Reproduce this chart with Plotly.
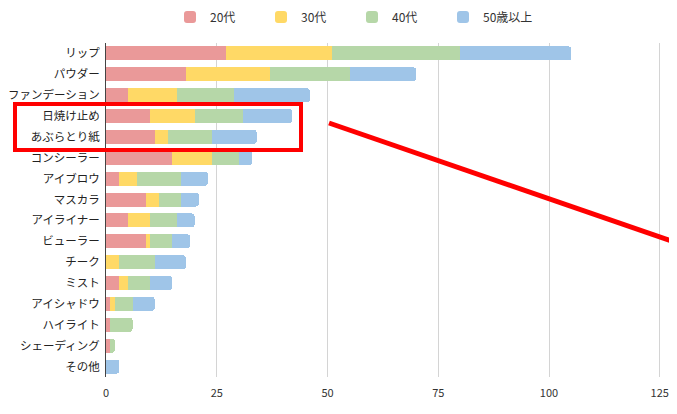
import plotly.graph_objects as go

# カテゴリ（上から順）
items = ["リップ", "パウダー", "ファンデーション", "日焼け止め", "あぶらとり紙", "コンシーラー",
         "アイブロウ", "マスカラ", "アイライナー", "ビューラー", "チーク", "ミスト",
         "アイシャドウ", "ハイライト", "シェーディング", "その他"]

age20 = [27, 18, 5, 10, 11, 15, 3, 9, 5, 9, 0, 3, 1, 1, 1, 0]
age30 = [24, 19, 11, 10, 3, 9, 4, 3, 5, 1, 3, 2, 1, 0, 0, 0]
age40 = [29, 18, 13, 11, 10, 6, 10, 5, 6, 5, 8, 5, 4, 5, 1, 0]
age50 = [25, 15, 17, 11, 10, 3, 6, 4, 4, 4, 7, 5, 5, 0, 0, 3]

series = [("20代", age20, "#ea9999"),
          ("30代", age30, "#ffd966"),
          ("40代", age40, "#b6d7a8"),
          ("50歳以上", age50, "#9fc5e8")]

# ページの余白(8px)を差し引いたサイズ
OFF = 8
W, H = 677 - OFF, 414 - 2 * OFF
L, R, T = 106 - OFF, 15, 43 - OFF
B = H - (377 - OFF)


def px_x(v):
    return (v - OFF - L) / (W - L - R)


def px_y(v):
    return (H - B - (v - OFF)) / (H - T - B)


fig = go.Figure()
for name, vals, col in series:
    fig.add_trace(go.Bar(y=items, x=vals, name=name, orientation="h",
                         marker=dict(color=col, line=dict(width=0))))

# 赤い枠と矢印
fig.add_shape(type="rect", xref="paper", yref="paper",
              x0=px_x(15), x1=px_x(301), y0=px_y(104), y1=px_y(150),
              line=dict(color="#ff0000", width=4))
fig.add_shape(type="line", xref="paper", yref="paper",
              x0=px_x(329), y0=px_y(123), x1=px_x(680), y1=px_y(244),
              line=dict(color="#ff0000", width=5))
fig.add_shape(type="path", xref="paper", yref="paper",
              path=(f"M {px_x(692)} {px_y(246)} L {px_x(669)} {px_y(251)} "
                    f"L {px_x(678)} {px_y(228)} Z"),
              fillcolor="#ff0000", line=dict(width=0))

fig.update_layout(
    width=W, height=H,
    barmode="stack", bargap=0.33, barcornerradius=3,
    plot_bgcolor="white", paper_bgcolor="white",
    margin=dict(l=L, r=R, t=T, b=B, autoexpand=False),
    font=dict(family="Noto Sans CJK JP", size=12, color="#333333"),
    legend=dict(orientation="h", x=px_x(170), y=px_y(17),
                xanchor="left", yanchor="middle",
                font=dict(size=12, color="#333333"),
                entrywidth=46, entrywidthmode="pixels", traceorder="normal"),
    showlegend=True,
)
fig.update_xaxes(range=[0, 125.5], tickvals=[0, 25, 50, 75, 100, 125],
                 showgrid=True, gridcolor="#d4d4d4", gridwidth=1,
                 zeroline=False, showline=False, ticks="",
                 ticklabelstandoff=8,
                 tickfont=dict(size=11, color="#333333"))
fig.update_yaxes(categoryorder="array", categoryarray=items, autorange="reversed",
                 showgrid=False, ticks="", showline=True, linecolor="#444444", linewidth=1,
                 ticklabelstandoff=3,
                 tickfont=dict(size=11.5, color="#222222"))

fig.write_html("out.html")
